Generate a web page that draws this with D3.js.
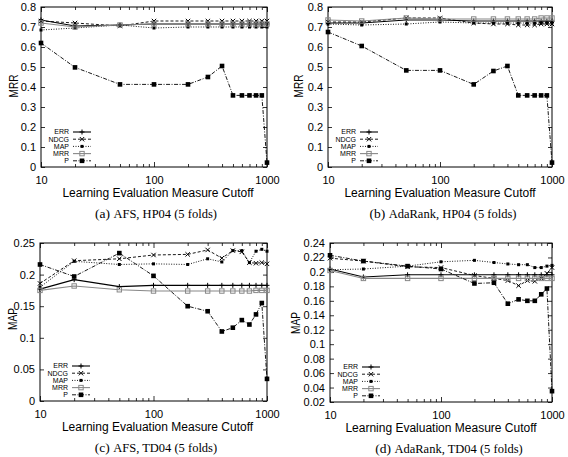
<!DOCTYPE html>
<html><head><meta charset="utf-8">
<script src="https://cdn.jsdelivr.net/npm/d3@7"></script>
<style>body{margin:0;background:#fff}svg{display:block}</style>
</head><body>
<svg id="chart" width="568" height="457"></svg>
<script>
// ---------- data ----------
const cutoffs = [10,20,50,100,200,300,400,500,600,700,800,900,1000];
const seriesNames = ["ERR","NDCG","MAP","MRR","P"];
const xMajorTicks = [10,100,1000];
const xMinorTicks = [20,30,40,50,60,70,80,90,200,300,400,500,600,700,800,900];

const a_ERR  = [0.735,0.705,0.710,0.715,0.715,0.715,0.715,0.715,0.715,0.715,0.715,0.715,0.715];
const a_NDCG = [0.730,0.720,0.705,0.730,0.730,0.730,0.730,0.730,0.730,0.730,0.730,0.730,0.730];
const a_MAP  = [0.685,0.695,0.710,0.695,0.700,0.700,0.700,0.700,0.700,0.700,0.700,0.700,0.700];
const a_MRR  = [0.720,0.700,0.710,0.715,0.715,0.715,0.715,0.715,0.715,0.715,0.715,0.715,0.715];
const a_P    = [0.620,0.498,0.413,0.413,0.413,0.450,0.505,0.358,0.358,0.358,0.358,0.358,0.022];

const b_ERR  = [0.720,0.720,0.735,0.735,0.730,0.730,0.730,0.730,0.730,0.730,0.730,0.730,0.730];
const b_NDCG = [0.725,0.725,0.745,0.745,0.720,0.715,0.715,0.710,0.710,0.710,0.715,0.715,0.715];
const b_MAP  = [0.715,0.710,0.715,0.725,0.720,0.720,0.720,0.720,0.720,0.720,0.720,0.720,0.720];
const b_MRR  = [0.735,0.730,0.745,0.740,0.740,0.740,0.740,0.740,0.740,0.740,0.745,0.745,0.745];
const b_P    = [0.675,0.605,0.483,0.483,0.413,0.480,0.505,0.358,0.358,0.358,0.358,0.358,0.022];

const c_ERR  = [0.177,0.192,0.181,0.183,0.183,0.183,0.183,0.183,0.183,0.183,0.183,0.183,0.183];
const c_NDCG = [0.186,0.222,0.225,0.231,0.232,0.239,0.226,0.238,0.236,0.219,0.218,0.219,0.217];
const c_MAP  = [0.180,0.221,0.216,0.217,0.216,0.225,0.220,0.238,0.238,0.219,0.237,0.240,0.237];
const c_MRR  = [0.175,0.182,0.176,0.174,0.174,0.174,0.174,0.174,0.174,0.174,0.175,0.175,0.175];
const c_P    = [0.216,0.197,0.234,0.198,0.150,0.142,0.110,0.116,0.128,0.121,0.137,0.155,0.035];

const d_ERR  = [0.204,0.193,0.196,0.196,0.196,0.196,0.196,0.196,0.196,0.196,0.196,0.196,0.196];
const d_NDCG = [0.219,0.215,0.207,0.206,0.195,0.191,0.188,0.181,0.188,0.187,0.191,0.198,0.206];
const d_MAP  = [0.203,0.204,0.208,0.214,0.216,0.213,0.211,0.210,0.210,0.206,0.206,0.208,0.209];
const d_MRR  = [0.202,0.191,0.191,0.191,0.191,0.191,0.191,0.191,0.191,0.191,0.191,0.191,0.191];
const d_P    = [0.223,0.215,0.208,0.204,0.184,0.185,0.156,0.162,0.160,0.160,0.169,0.177,0.035];

const yTicksHP = [0,0.1,0.2,0.3,0.4,0.5,0.6,0.7,0.8];
const yTicksC  = [0,0.05,0.1,0.15,0.2,0.25];
const yTicksD  = [0.02,0.04,0.06,0.08,0.1,0.12,0.14,0.16,0.18,0.2,0.22,0.24];

const captionsLetter = ["(a)","(b)","(c)","(d)"];
const captionsText = ["AFS, HP04 (5 folds)","AdaRank, HP04 (5 folds)","AFS, TD04 (5 folds)","AdaRank, TD04 (5 folds)"];
const yTitles = ["MRR","MRR","MAP","MAP"];
const xTitle = "Learning Evaluation Measure Cutoff";

// ---------- layout / style ----------
const panels = [
  {x0:41, x1:267, y0:7,   y1:167, dom:[0,0.8],    ticks:yTicksHP, data:[a_ERR,a_NDCG,a_MAP,a_MRR,a_P], ylx:18,  yly:86,  cx:156},
  {x0:328,x1:552, y0:7,   y1:167, dom:[0,0.8],    ticks:yTicksHP, data:[b_ERR,b_NDCG,b_MAP,b_MRR,b_P], ylx:303, yly:86,  cx:443},
  {x0:40, x1:267, y0:243, y1:401, dom:[0,0.25],   ticks:yTicksC,  data:[c_ERR,c_NDCG,c_MAP,c_MRR,c_P], ylx:17,  yly:319, cx:156},
  {x0:330,x1:552, y0:243, y1:402, dom:[0.02,0.24],ticks:yTicksD,  data:[d_ERR,d_NDCG,d_MAP,d_MRR,d_P], ylx:300, yly:323, cx:449}
];
const styles = [
  {stroke:"#000", dash:null,    marker:"plus",  w:1.1},
  {stroke:"#000", dash:"3,2",   marker:"cross", w:0.9},
  {stroke:"#000", dash:"1,1.5", marker:"dot",   w:0.9},
  {stroke:"#888", dash:null,    marker:"open",  w:1.1},
  {stroke:"#000", dash:"4,1.5,1,1.5", marker:"fill", w:0.9}
];

const svg = d3.select("#chart");
const sans = "'Liberation Sans', Arial, Helvetica, sans-serif";
const serif = "'Liberation Serif', 'Times New Roman', serif";

function drawMarker(g, kind, cx, cy, color){
  if(kind==="plus"){
    g.append("path").attr("d",`M${cx-2.5},${cy}H${cx+2.5}M${cx},${cy-2.5}V${cy+2.5}`).attr("stroke",color).attr("stroke-width",1);
  } else if(kind==="cross"){
    g.append("path").attr("d",`M${cx-2.2},${cy-2.2}L${cx+2.2},${cy+2.2}M${cx-2.2},${cy+2.2}L${cx+2.2},${cy-2.2}`).attr("stroke",color).attr("stroke-width",1);
  } else if(kind==="dot"){
    g.append("rect").attr("x",cx-1.5).attr("y",cy-1.5).attr("width",3).attr("height",3).attr("fill",color);
  } else if(kind==="open"){
    g.append("rect").attr("x",cx-2.2).attr("y",cy-2.2).attr("width",4.4).attr("height",4.4).attr("fill","none").attr("stroke",color).attr("stroke-width",1);
  } else if(kind==="fill"){
    g.append("rect").attr("x",cx-2.3).attr("y",cy-2.3).attr("width",4.6).attr("height",4.6).attr("fill",color);
  }
}

panels.forEach((p,pi)=>{
  const x = d3.scaleLog().domain([10,1000]).range([p.x0,p.x1]);
  const y = d3.scaleLinear().domain(p.dom).range([p.y1,p.y0]);
  const g = svg.append("g");

  const fmt = v => String(+v.toFixed(2));
  g.append("g").attr("transform",`translate(0,${p.y1})`)
    .call(d3.axisBottom(x).tickValues(xMajorTicks).tickSize(-5).tickPadding(9).tickFormat(d3.format("d")));
  g.append("g").attr("transform",`translate(0,${p.y1})`)
    .call(d3.axisBottom(x).tickValues(xMinorTicks).tickSize(-3).tickFormat(""));
  g.append("g").attr("transform",`translate(0,${p.y0})`)
    .call(d3.axisTop(x).tickValues(xMajorTicks).tickSize(-5).tickFormat(""));
  g.append("g").attr("transform",`translate(0,${p.y0})`)
    .call(d3.axisTop(x).tickValues(xMinorTicks).tickSize(-3).tickFormat(""));
  g.append("g").attr("transform",`translate(${p.x0},0)`)
    .call(d3.axisLeft(y).tickValues(p.ticks).tickSize(-4).tickPadding(5).tickFormat(fmt));
  g.append("g").attr("transform",`translate(${p.x1},0)`)
    .call(d3.axisRight(y).tickValues(p.ticks).tickSize(-4).tickFormat(""));
  g.selectAll(".domain").remove();
  g.selectAll(".tick line").attr("stroke","#000").attr("stroke-width",0.8);
  g.selectAll(".tick text").attr("font-family",sans).attr("font-size",11).attr("fill","#000");

  g.append("rect").attr("x",p.x0).attr("y",p.y0).attr("width",p.x1-p.x0).attr("height",p.y1-p.y0)
    .attr("fill","none").attr("stroke","#000").attr("stroke-width",1);

  const line = d3.line().x((d,i)=>x(cutoffs[i])).y(d=>y(d));
  p.data.forEach((vals,si)=>{
    const s = styles[si];
    g.append("path").datum(vals).attr("d",line).attr("fill","none")
      .attr("stroke",s.stroke).attr("stroke-width",s.w).attr("stroke-dasharray",s.dash);
    const mg = g.append("g");
    vals.forEach((v,i)=>drawMarker(mg,s.marker,x(cutoffs[i]),y(v),s.stroke));
  });

  const lx = p.x0+28;
  seriesNames.forEach((n,si)=>{
    const s = styles[si];
    const ly = p.y1-35+si*7.2;
    g.append("text").attr("x",lx).attr("y",ly+2.4).attr("text-anchor","end")
      .attr("font-family",sans).attr("font-size",7).text(n);
    g.append("line").attr("x1",lx+4).attr("x2",lx+22).attr("y1",ly).attr("y2",ly)
      .attr("stroke",s.stroke).attr("stroke-width",s.w).attr("stroke-dasharray",s.dash);
    drawMarker(g,s.marker,lx+13,ly,s.stroke);
  });

  g.append("text").attr("x",(p.x0+p.x1)/2+(pi%2===0?4:0)).attr("y",p.y1+30)
    .attr("text-anchor","middle").attr("font-family",sans).attr("font-size",12).text(xTitle);
  g.append("text").attr("transform",`translate(${p.ylx},${p.yly}) rotate(-90) scale(0.78,1)`)
    .attr("text-anchor","middle").attr("font-family",sans).attr("font-size",13).text(yTitles[pi]);

  const cap = g.append("text").attr("x",p.cx).attr("y",p.y1+51).attr("text-anchor","middle")
    .attr("font-family",serif).attr("fill","#000");
  cap.append("tspan").attr("font-size",13.5).text(captionsLetter[pi]+" ");
  cap.append("tspan").attr("font-size",12.5).text(captionsText[pi]);
});
</script>
</body></html>
